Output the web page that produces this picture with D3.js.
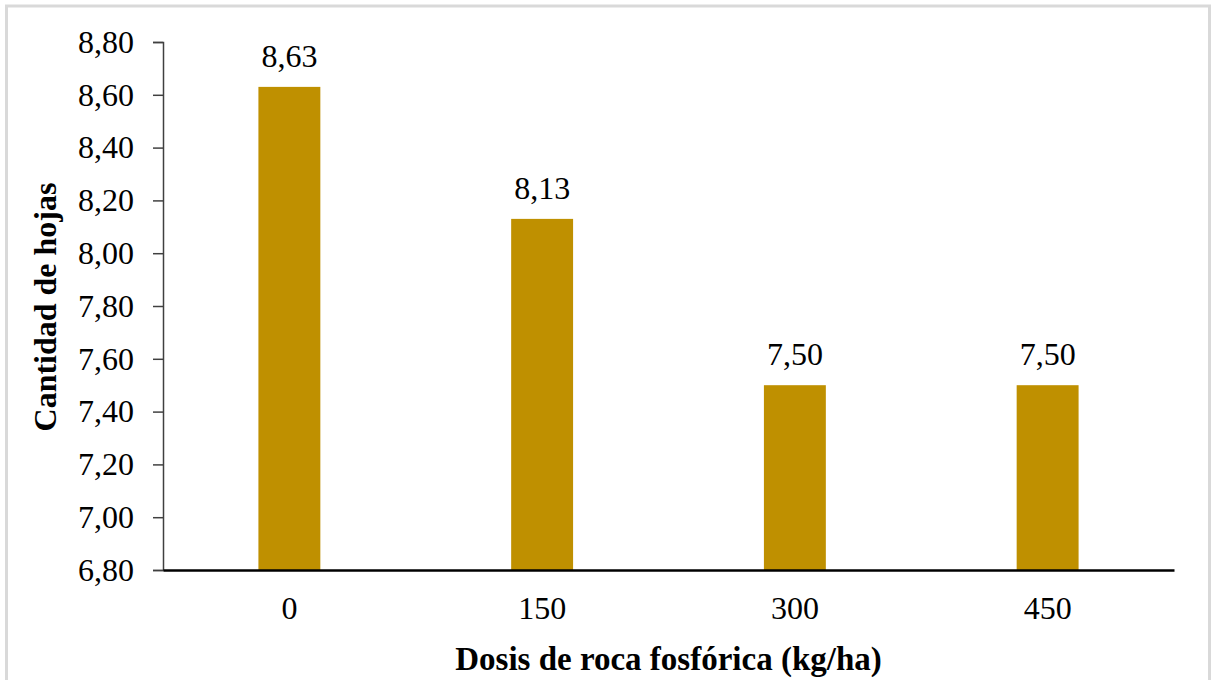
<!DOCTYPE html>
<html>
<head>
<meta charset="utf-8">
<script src="https://cdn.jsdelivr.net/npm/d3@7"></script>
<style>
  html, body { margin: 0; padding: 0; background: #fff; }
  svg { display: block; }
</style>
</head>
<body>
<svg id="chart" width="1211" height="680"></svg>
<script>
// Leaf count by phosphate rock dose
const categories = ["0", "150", "300", "450"];
const values = [8.63, 8.13, 7.50, 7.50];
const valueLabels = ["8,63", "8,13", "7,50", "7,50"];
const yTicks = [6.8, 7.0, 7.2, 7.4, 7.6, 7.8, 8.0, 8.2, 8.4, 8.6, 8.8];
const yTitle = "Cantidad de hojas";
const xTitle = "Dosis de roca fosfórica (kg/ha)";

const W = 1211, H = 680;
const plotLeft = 163, plotRight = 1174, plotTop = 42, plotBottom = 570;
const serif = "Liberation Serif, Times New Roman, serif";
const fmt = d => d.toFixed(2).replace(".", ",");

const svg = d3.select("#chart").attr("font-family", serif);

// outer frame (bottom edge runs past the page)
svg.append("rect")
  .attr("x", 6.5).attr("y", 6).attr("width", 1203).attr("height", H + 20)
  .attr("fill", "#fff").attr("stroke", "#d9d9d9").attr("stroke-width", 3);

const x = d3.scaleBand().domain(categories).range([plotLeft, plotRight])
  .paddingInner(0.755).paddingOuter(0.3775);
const y = d3.scaleLinear().domain([6.8, 8.8]).range([plotBottom, plotTop]);

// bars
svg.append("g").selectAll("rect").data(values).join("rect")
  .attr("x", (d, i) => x(categories[i]))
  .attr("y", d => y(d))
  .attr("width", x.bandwidth())
  .attr("height", d => y(6.8) - y(d))
  .attr("fill", "#bf9000");

// value labels
svg.append("g").selectAll("text").data(values).join("text")
  .attr("x", (d, i) => x(categories[i]) + x.bandwidth() / 2)
  .attr("y", d => y(d) - 20)
  .attr("text-anchor", "middle")
  .attr("font-family", serif).attr("font-size", 32).attr("fill", "#000")
  .text((d, i) => valueLabels[i]);

// y axis
const yAxis = svg.append("g").attr("transform", `translate(${plotLeft},0)`)
  .call(d3.axisLeft(y).tickValues(yTicks).tickFormat(fmt).tickSize(10).tickPadding(19));
yAxis.select(".domain").attr("stroke", "#404040").attr("stroke-width", 1.5);
yAxis.selectAll(".tick line").attr("stroke", "#404040").attr("stroke-width", 1.5);
yAxis.selectAll(".tick text")
  .attr("font-family", serif).attr("font-size", 32).attr("fill", "#000");
yAxis.attr("font-family", serif).attr("font-size", 32);

// x axis
const xAxis = svg.append("g").attr("transform", `translate(0,${plotBottom})`)
  .call(d3.axisBottom(x).tickSize(0).tickPadding(26));
xAxis.select(".domain").attr("stroke", "#000").attr("stroke-width", 2.5);
xAxis.attr("font-family", serif).attr("font-size", 32);
xAxis.selectAll(".tick text")
  .attr("font-family", serif).attr("font-size", 32).attr("fill", "#000");

// axis titles
svg.append("text")
  .attr("transform", `translate(56,${(plotTop + plotBottom) / 2 + 1}) rotate(-90)`)
  .attr("text-anchor", "middle")
  .attr("font-family", serif).attr("font-size", 32).attr("font-weight", "bold")
  .text(yTitle);

svg.append("text")
  .attr("x", (plotLeft + plotRight) / 2).attr("y", 670)
  .attr("text-anchor", "middle")
  .attr("font-family", serif).attr("font-size", 33).attr("font-weight", "bold")
  .text(xTitle);
</script>
</body>
</html>
